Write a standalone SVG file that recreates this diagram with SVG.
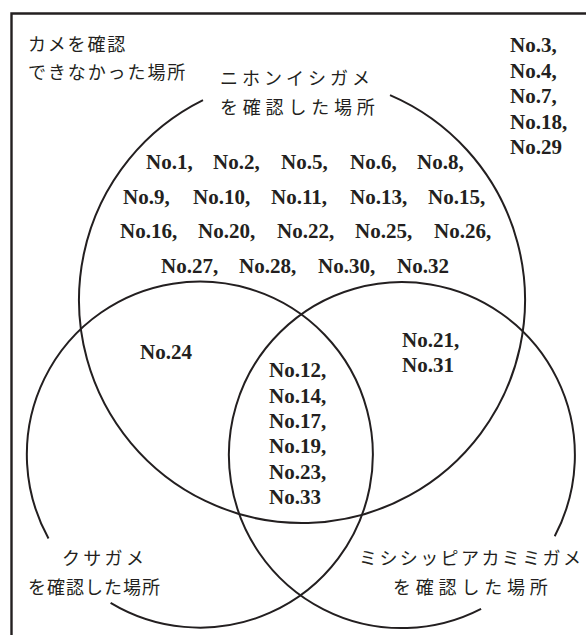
<svg xmlns="http://www.w3.org/2000/svg" width="586" height="635" viewBox="0 0 586 635">
<style>
.ln{fill:none;stroke:#231f20;stroke-width:2}
.fr{fill:none;stroke:#231f20;stroke-width:2.4}
.jp{font-family:"Noto Sans CJK JP","Noto Sans",sans-serif;font-size:18px;fill:#231f20}
.no{font-family:"Liberation Serif","Times New Roman",serif;font-weight:bold;font-size:21px;fill:#231f20}
</style>
<rect width="586" height="635" fill="#ffffff"/>
<path class="fr" d="M11.5 640 V13.5 H590"/>
<g id="connectors"/>
<g id="set-nihon">
<path class="ln" d="M203 100.2 A223 223 0 1 0 390 95.1"/>
<text class="jp" x="220" y="85" letter-spacing="4">ニホンイシガメ</text>
<text class="jp" x="220" y="114" letter-spacing="4.8">を確認した場所</text>
</g>
<g id="set-kusa">
<path class="ln" d="M110.6 602.8 A173 173 0 1 0 48.5 538.4"/>
<text class="jp" x="62" y="565" letter-spacing="3.3">クサガメ</text>
<text class="jp" x="28" y="594" letter-spacing="1">を確認した場所</text>
</g>
<g id="set-mississippi">
<path class="ln" d="M554.7 536.2 A173 173 0 1 0 481.1 608.9"/>
<text class="jp" x="359" y="565" letter-spacing="2.4">ミシシッピアカミミガメ</text>
<text class="jp" x="393" y="594" letter-spacing="4.8">を確認した場所</text>
</g>
<g id="none">
<text class="jp" x="28" y="51" letter-spacing="1.8">カメを確認</text>
<text class="jp" x="28" y="79" letter-spacing="1.9">できなかった場所</text>
<text class="no" x="510" y="52">No.3,</text>
<text class="no" x="510" y="77.5">No.4,</text>
<text class="no" x="510" y="103">No.7,</text>
<text class="no" x="510" y="128.5">No.18,</text>
<text class="no" x="510" y="154">No.29</text>
</g>
<g id="only-nihon">
<text class="no" x="146" y="169">No.1,</text>
<text class="no" x="213" y="169">No.2,</text>
<text class="no" x="281" y="169">No.5,</text>
<text class="no" x="350" y="169">No.6,</text>
<text class="no" x="417" y="169">No.8,</text>
<text class="no" x="123" y="203.5">No.9,</text>
<text class="no" x="193" y="203.5">No.10,</text>
<text class="no" x="271" y="203.5">No.11,</text>
<text class="no" x="350" y="203.5">No.13,</text>
<text class="no" x="428" y="203.5">No.15,</text>
<text class="no" x="120" y="238">No.16,</text>
<text class="no" x="198" y="238">No.20,</text>
<text class="no" x="277" y="238">No.22,</text>
<text class="no" x="355" y="238">No.25,</text>
<text class="no" x="434" y="238">No.26,</text>
<text class="no" x="161" y="272.5">No.27,</text>
<text class="no" x="239" y="272.5">No.28,</text>
<text class="no" x="318" y="272.5">No.30,</text>
<text class="no" x="397" y="272.5">No.32</text>
</g>
<g id="nihon-kusa">
<text class="no" x="140" y="359">No.24</text>
</g>
<g id="nihon-mississippi">
<text class="no" x="402" y="347">No.21,</text>
<text class="no" x="402" y="372">No.31</text>
</g>
<g id="all-three">
<text class="no" x="269" y="377">No.12,</text>
<text class="no" x="269" y="402.5">No.14,</text>
<text class="no" x="269" y="428">No.17,</text>
<text class="no" x="269" y="453">No.19,</text>
<text class="no" x="269" y="478.5">No.23,</text>
<text class="no" x="269" y="504">No.33</text>
</g>
</svg>
